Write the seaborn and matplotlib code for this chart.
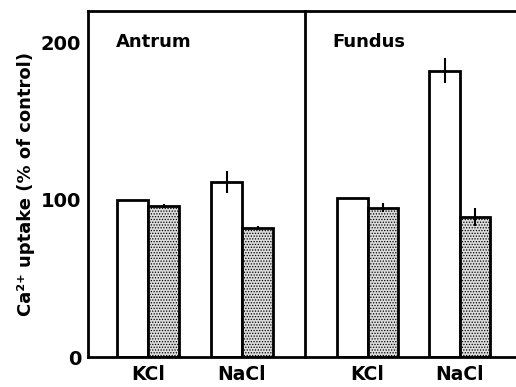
import matplotlib
matplotlib.use("Agg")
import matplotlib.pyplot as plt
import seaborn as sns
import pandas as pd

regions = ["Antrum", "Fundus"]
salts = ["KCl", "NaCl"]
conditions = ["control", "treated"]
antrum_values = [100, 96, 111, 82]   # KCl-ctrl, KCl-trt, NaCl-ctrl, NaCl-trt
antrum_errors = [0, 1, 7, 1]
fundus_values = [101, 95, 182, 89]
fundus_errors = [0, 3, 8, 6]
y_ticks = [0, 100, 200]

sns.set_theme(style="white")
plt.rcParams['font.family'] = ['DejaVu Sans']
plt.rcParams['font.weight'] = 'bold'
for k in ['text.color', 'axes.labelcolor', 'xtick.color', 'ytick.color']:
    plt.rcParams[k] = 'black'
plt.rcParams['hatch.linewidth'] = 0.6

fig = plt.figure(figsize=(5.16, 3.87), dpi=100)
ax1 = fig.add_axes([0.1705, 0.0775, 0.4205, 0.894])
ax2 = fig.add_axes([0.591, 0.0775, 0.409, 0.894], sharey=ax1)

def build(vals):
    rows = []
    i = 0
    for s in salts:
        for c in conditions:
            rows.append({"salt": s, "cond": c, "value": vals[i]})
            i += 1
    return pd.DataFrame(rows)

panels = [(ax1, regions[0], antrum_values, antrum_errors, (-0.64, 1.67)),
          (ax2, regions[1], fundus_values, fundus_errors, (-0.68, 1.61))]

for ax, name, vals, errs, xl in panels:
    df = build(vals)
    sns.barplot(data=df, x="salt", y="value", hue="cond", order=salts,
                hue_order=conditions, palette=["white", "#dcdcdc"],
                width=0.66, edgecolor="black", linewidth=2.0, errorbar=None,
                legend=False, ax=ax, gap=0)
    bars = [p for p in ax.patches if p.get_height() > 0]
    bars = sorted(bars, key=lambda p: p.get_x())
    for p in bars:
        if p.get_facecolor()[0] < 0.95:
            p.set_hatch('......')
    for p, v, e in zip(bars, vals, errs):
        if e > 0:
            xc = p.get_x() + p.get_width() / 2
            ax.errorbar(xc, v, yerr=e, fmt='none', ecolor='black',
                        elinewidth=1.5, capsize=0, zorder=5)
    ax.set_xlim(*xl)
    ax.set_ylim(0, 220)
    ax.set_xlabel("")
    ax.set_ylabel("")
    ax.text(0.13, 200, name, fontsize=13, color='black',
            fontweight='bold', ha='left', va='center',
            transform=ax.get_yaxis_transform())
    for sp in ["left", "bottom", "top"]:
        ax.spines[sp].set_linewidth(2.0)
        ax.spines[sp].set_color("black")
    ax.spines["right"].set_visible(False)
    ax.tick_params(axis='x', length=0, labelsize=13.5, pad=6)
    for lab in ax.get_xticklabels():
        lab.set_fontweight('bold')

ax1.set_yticks(y_ticks)
ax1.tick_params(axis='y', direction='in', length=4, width=1.5, labelsize=14, pad=5)
for lab in ax1.get_yticklabels():
    lab.set_fontweight('bold')
ax2.tick_params(axis='y', direction='in', length=4, width=1.5, labelleft=False)
ax1.set_ylabel("Ca²⁺ uptake (% of control)", fontsize=13, fontweight='bold', labelpad=4)

fig.savefig("out.png", dpi=100)
